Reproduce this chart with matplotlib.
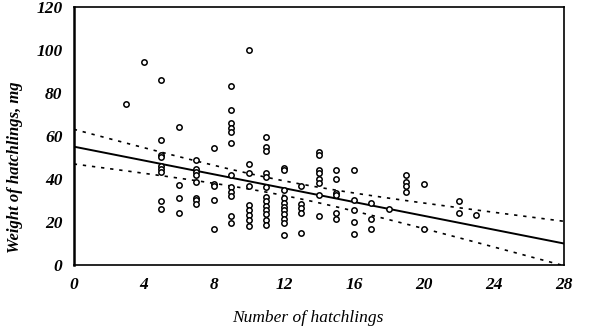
import matplotlib
matplotlib.use("Agg")
import matplotlib.pyplot as plt
import numpy as np

# hatchling weight (mg) grouped by clutch size
clutch_sizes = [3, 4, 5, 6, 7, 8, 9, 10, 11, 12, 13, 14, 15, 16, 17, 18, 19, 20, 22, 23]
weights = [
    [75],
    [94.5],
    [86, 58, 51, 50, 46, 44.5, 43, 29.5, 26],
    [64, 37, 31, 24],
    [49, 44.5, 43, 42, 38.5, 31, 30, 28.5],
    [54.5, 37.5, 36.5, 30, 16.5],
    [83, 72, 66, 63.5, 62, 56.5, 42, 36, 34, 32, 22.5, 19.5],
    [100, 47, 42.5, 36.5, 28, 25.5, 23, 21, 18],
    [59.5, 55, 53, 42.5, 41, 36, 31.5, 29.5, 27.5, 25.5, 23.5, 21, 18.5],
    [45, 44, 35, 31, 29, 27, 25.5, 23.5, 21.5, 19.5, 14],
    [36.5, 28.5, 26.5, 24, 15],
    [52.5, 51, 44, 42.5, 40, 38, 32.5, 22.5],
    [44, 40, 33.5, 32.5, 24, 21.5],
    [44, 30, 25.5, 20, 14.5],
    [29, 21.5, 16.5],
    [26],
    [42, 38.5, 36.5, 34],
    [37.5, 16.5],
    [29.5, 24],
    [23],
]

# linear fit and its confidence band
intercept = 55.0
slope = -1.61
x_mean = 12.0
band_min = 3.4
band_growth = 0.61

x_ticks = [0, 4, 8, 12, 16, 20, 24, 28]
y_ticks = [0, 20, 40, 60, 80, 100, 120]

xs = np.concatenate([[n] * len(w) for n, w in zip(clutch_sizes, weights)])
ys = np.concatenate(weights)

fig = plt.figure(figsize=(5.9, 3.29), dpi=100)
ax = fig.add_axes([0.125, 0.195, 0.831, 0.784])

ax.scatter(xs, ys, s=15, facecolors="white", edgecolors="black",
           linewidths=1.1, zorder=3)

xf = np.linspace(0, 28, 300)
fit = intercept + slope * xf
half = np.sqrt(band_min ** 2 + (band_growth * (xf - x_mean)) ** 2)
ax.plot(xf, fit, color="black", lw=1.4, zorder=2)
ax.plot(xf, fit + half, color="black", lw=1.2, dashes=(2, 3.5), zorder=2)
ax.plot(xf, fit - half, color="black", lw=1.2, dashes=(2, 3.5), zorder=2)

ax.set_xlim(0, 28)
ax.set_ylim(0, 120)
ax.set_xticks(x_ticks)
ax.set_yticks(y_ticks)

tick_font = dict(family="Liberation Serif", style="italic", weight="bold", size=12.5)
ax.set_xticklabels([str(t) for t in x_ticks], fontdict=tick_font)
ax.set_yticklabels([str(t) for t in y_ticks], fontdict=tick_font)
ax.tick_params(length=0, pad=9)
ax.tick_params(axis="y", pad=8)

ax.set_xlabel("Number of hatchlings", family="Liberation Serif",
              style="italic", size=12.5)
ax.set_ylabel("Weight of hatchlings, mg", family="Liberation Serif",
              style="italic", weight="bold", size=12)
ax.xaxis.set_label_coords(0.478, -0.175)
ax.yaxis.set_label_coords(-0.104, 0.38)

for side in ["top", "right", "bottom"]:
    ax.spines[side].set_linewidth(1.2)
ax.spines["left"].set_linewidth(1.8)

fig.savefig("out.png", dpi=100)
